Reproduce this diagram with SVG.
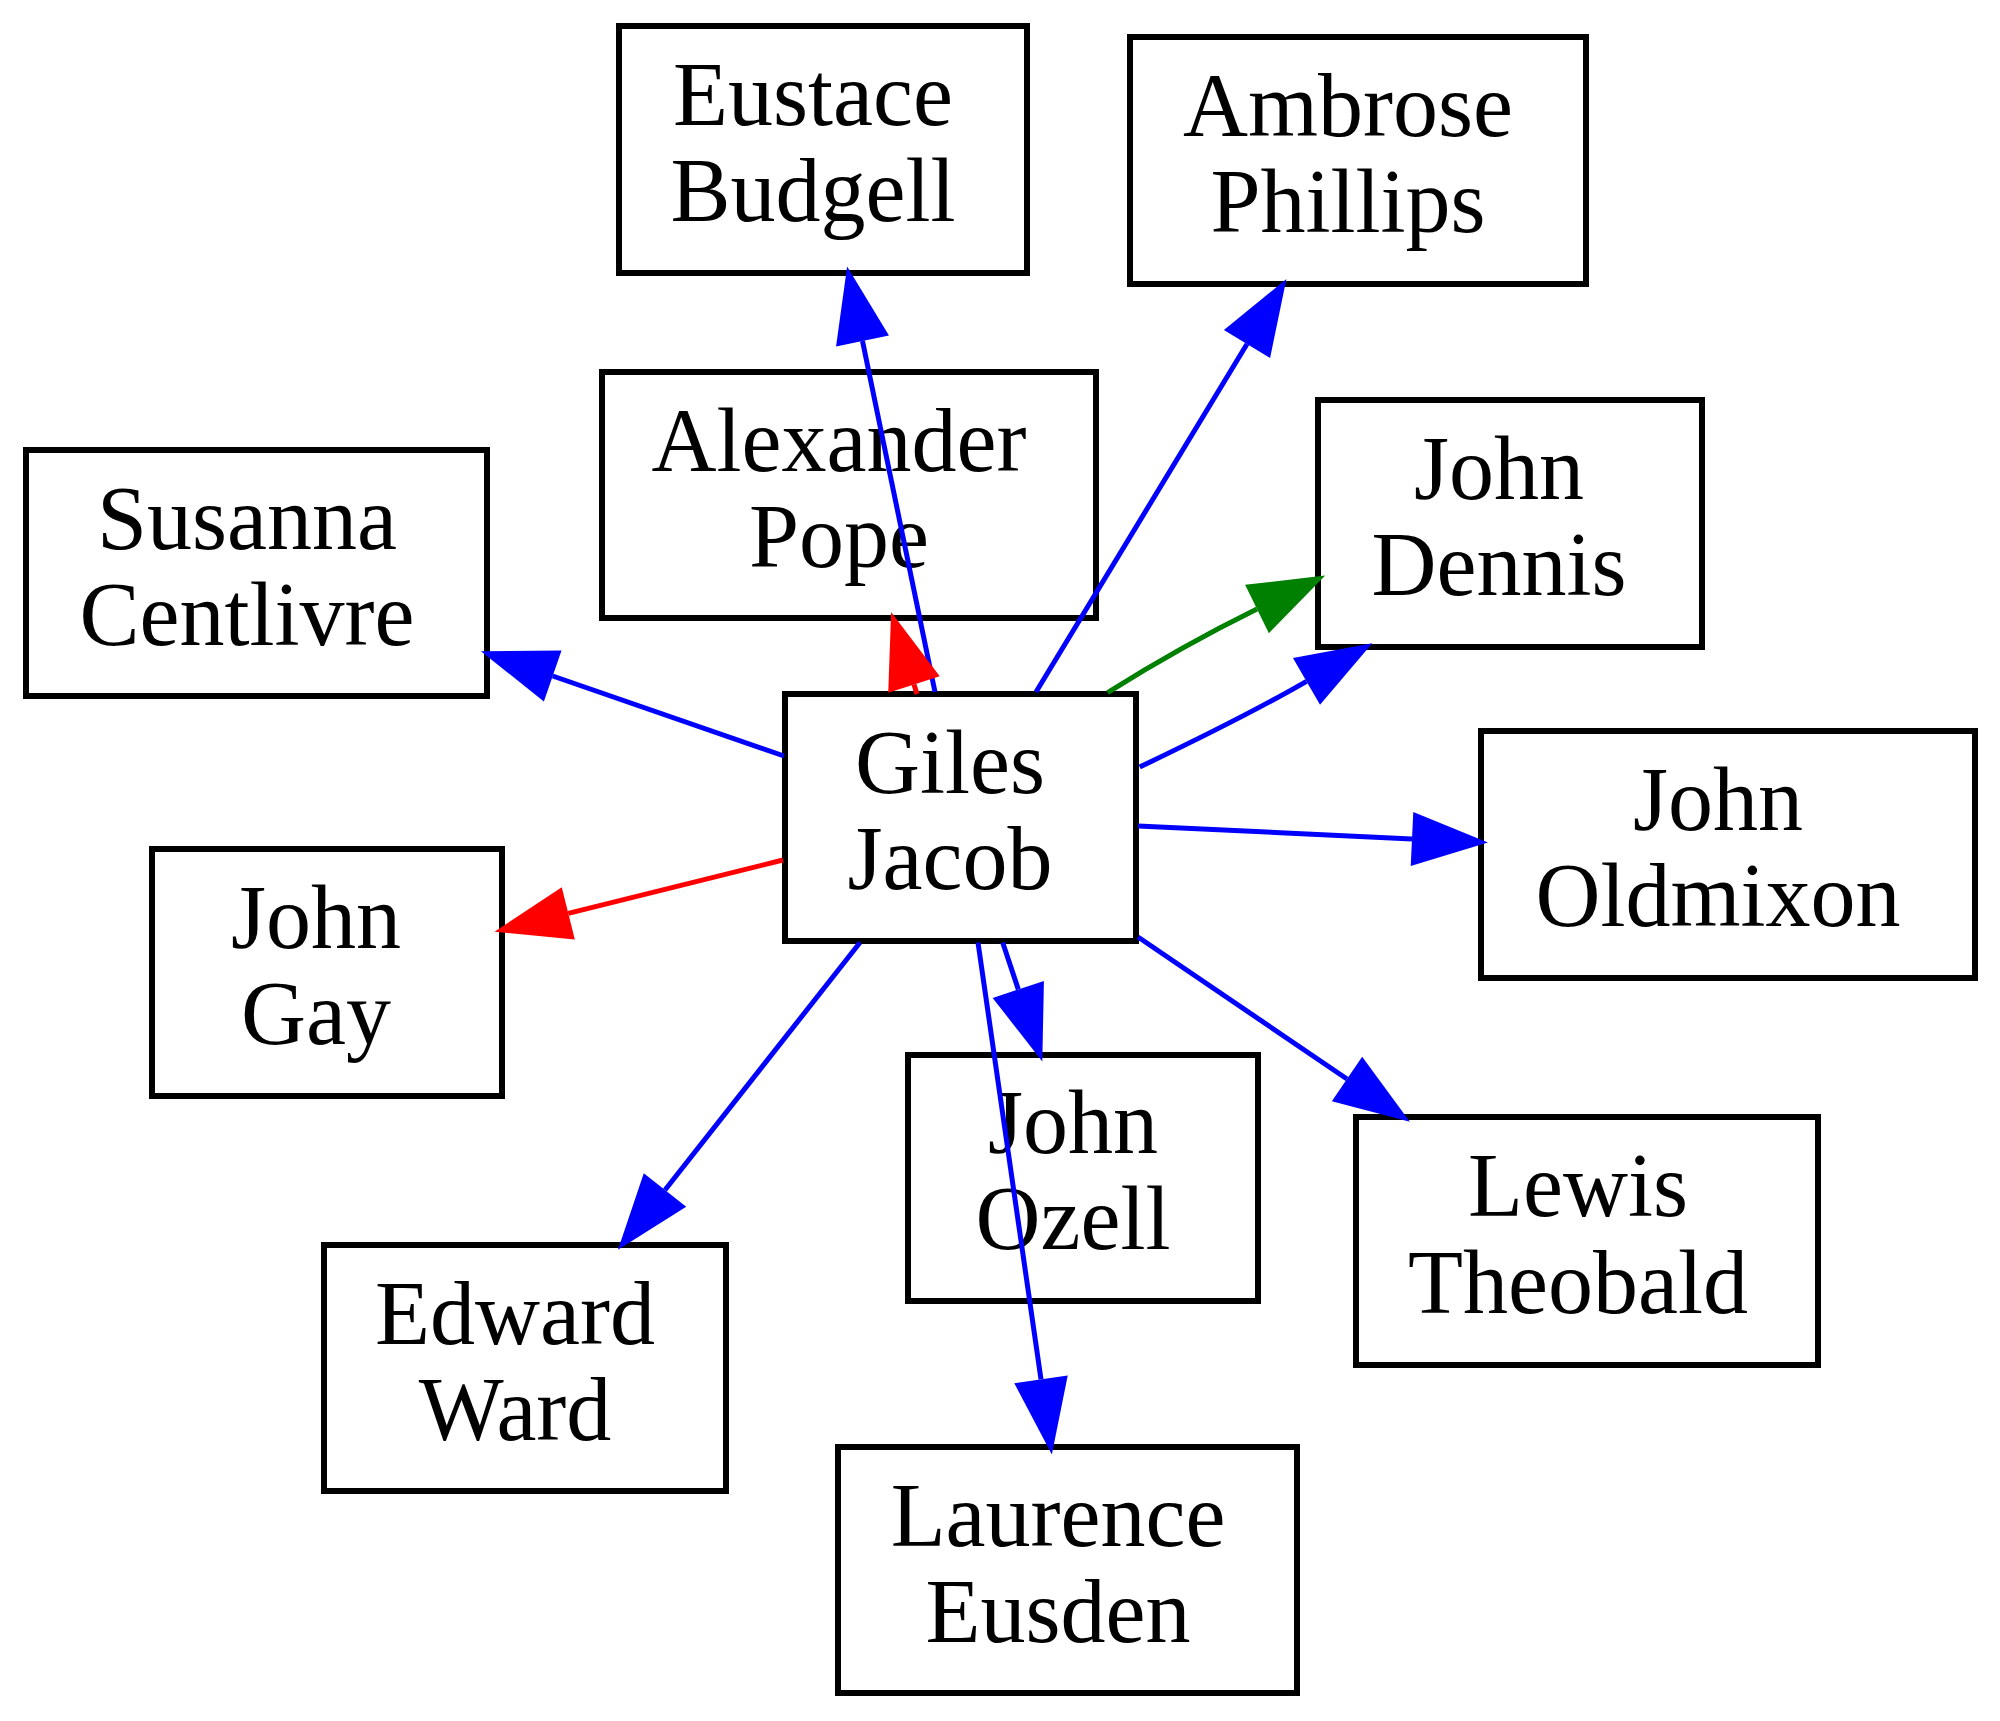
<svg xmlns="http://www.w3.org/2000/svg" width="2000" height="1721" viewBox="0 0 2000 1721">
<style>
.box{fill:#ffffff;stroke:#000000;stroke-width:6}
.lbl{font-family:"Liberation Serif","Times New Roman",serif;font-size:90px;fill:#000000;text-anchor:middle}
.e{fill:none;stroke-width:5}
.blue{stroke:#0000ff;marker-end:url(#ab)}
.red{stroke:#ff0000;marker-end:url(#ar)}
.green{stroke:#008000;marker-end:url(#ag)}
</style>
<defs>
<marker id="ab" markerUnits="userSpaceOnUse" orient="auto" refX="0" refY="0" markerWidth="80" markerHeight="60" overflow="visible"><path d="M0,-27 L76,0 L0,27 Z" fill="#0000ff"/></marker>
<marker id="ar" markerUnits="userSpaceOnUse" orient="auto" refX="0" refY="0" markerWidth="80" markerHeight="60" overflow="visible"><path d="M0,-27 L76,0 L0,27 Z" fill="#ff0000"/></marker>
<marker id="ag" markerUnits="userSpaceOnUse" orient="auto" refX="0" refY="0" markerWidth="80" markerHeight="60" overflow="visible"><path d="M0,-27 L76,0 L0,27 Z" fill="#008000"/></marker>
</defs>
<rect width="2000" height="1721" fill="#ffffff"/>
<g id="nodes">
<g id="eustace_budgell"><rect class="box" x="619" y="26" width="408" height="247"/><text class="lbl" x="813" y="125">Eustace</text><text class="lbl" x="813" y="221">Budgell</text></g>
<g id="ambrose_phillips"><rect class="box" x="1130" y="37" width="456" height="247"/><text class="lbl" x="1348" y="136">Ambrose</text><text class="lbl" x="1348" y="232">Phillips</text></g>
<g id="alexander_pope"><rect class="box" x="602" y="372" width="494" height="246"/><text class="lbl" x="839" y="471">Alexander</text><text class="lbl" x="839" y="567">Pope</text></g>
<g id="susanna_centlivre"><rect class="box" x="26" y="450" width="461" height="246"/><text class="lbl" x="247" y="549">Susanna</text><text class="lbl" x="247" y="645">Centlivre</text></g>
<g id="john_dennis"><rect class="box" x="1318" y="400" width="384" height="247"/><text class="lbl" x="1499" y="499">John</text><text class="lbl" x="1499" y="595">Dennis</text></g>
<g id="giles_jacob"><rect class="box" x="785" y="694" width="351" height="247"/><text class="lbl" x="950" y="793">Giles</text><text class="lbl" x="950" y="889">Jacob</text></g>
<g id="john_oldmixon"><rect class="box" x="1481" y="731" width="494" height="247"/><text class="lbl" x="1718" y="830">John</text><text class="lbl" x="1718" y="926">Oldmixon</text></g>
<g id="john_gay"><rect class="box" x="152" y="849" width="350" height="247"/><text class="lbl" x="316" y="948">John</text><text class="lbl" x="316" y="1044">Gay</text></g>
<g id="john_ozell"><rect class="box" x="908" y="1055" width="350" height="246"/><text class="lbl" x="1073" y="1153">John</text><text class="lbl" x="1073" y="1249">Ozell</text></g>
<g id="lewis_theobald"><rect class="box" x="1356" y="1117" width="462" height="248"/><text class="lbl" x="1578" y="1216">Lewis</text><text class="lbl" x="1578" y="1313">Theobald</text></g>
<g id="edward_ward"><rect class="box" x="324" y="1245" width="402" height="246"/><text class="lbl" x="515" y="1344">Edward</text><text class="lbl" x="515" y="1440">Ward</text></g>
<g id="laurence_eusden"><rect class="box" x="838" y="1447" width="459" height="246"/><text class="lbl" x="1058" y="1546">Laurence</text><text class="lbl" x="1058" y="1642">Eusden</text></g>
</g>
<g id="connectors">
<path class="e blue" d="M935,692 L862.5,341"/>
<path class="e red" d="M917,694 L914,684.5"/>
<path class="e blue" d="M1036,692 L1247,344"/>
<path class="e green" d="M1107.6,692.6 C1150,666 1200,637 1257,609"/>
<path class="e blue" d="M1139.7,767 C1190,743 1250,714 1306.5,681.3"/>
<path class="e blue" d="M1138,826 L1412,839"/>
<path class="e blue" d="M1138,937 L1347,1079"/>
<path class="e blue" d="M860,942.5 L665,1190"/>
<path class="e blue" d="M1002.7,942.5 L1018.3,989.4"/>
<path class="e blue" d="M978,942.5 L1041,1379.4"/>
<path class="e blue" d="M784,756 L552.7,676"/>
<path class="e red" d="M783,860 L568.3,913.4"/>
</g>
</svg>
